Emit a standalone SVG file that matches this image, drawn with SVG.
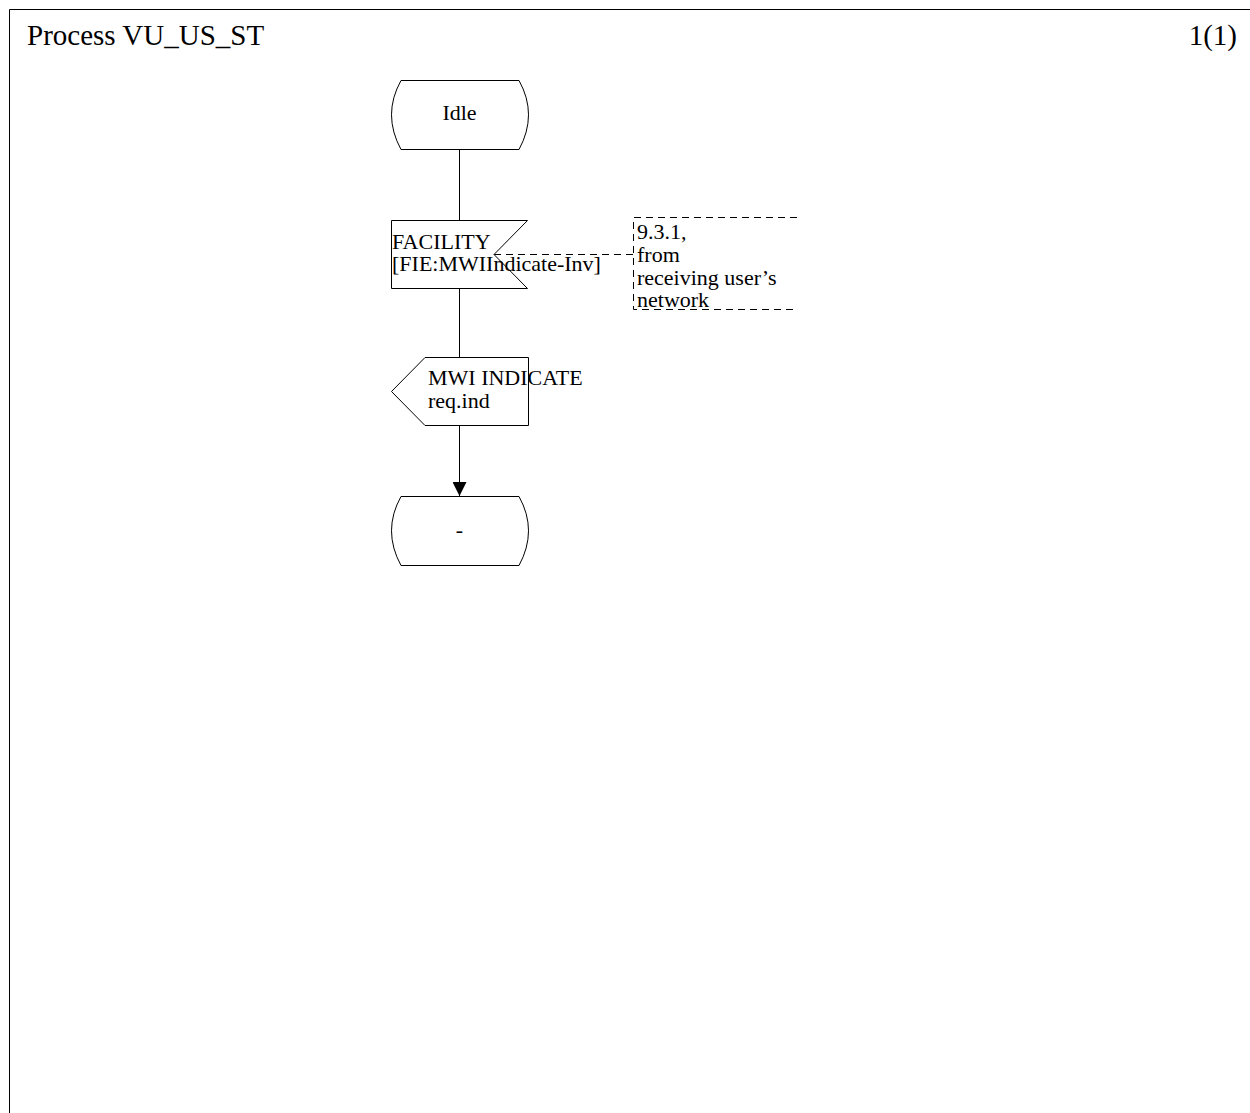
<svg xmlns="http://www.w3.org/2000/svg" width="1250" height="1113" viewBox="0 0 1250 1113">
<style>
text{font-family:"Liberation Serif","Times New Roman",serif;font-size:22px;fill:#000}
.s{fill:#fff;stroke:#000;stroke-width:1}
.l{fill:none;stroke:#000;stroke-width:1}
.d{fill:none;stroke:#000;stroke-width:1;stroke-dasharray:7,5}
</style>
<defs>
<marker id="ah" markerWidth="14" markerHeight="14" refX="14" refY="7" orient="auto" markerUnits="userSpaceOnUse">
<path d="M0,0 L14,7 L0,14 Z" fill="#000"/>
</marker>
</defs>
<rect width="1250" height="1113" fill="#fff"/>
<g id="frame">
<path class="l" d="M9.5,1113 V9.5 H1250"/>
<text x="27" y="45" style="font-size:29px">Process VU_US_ST</text>
<text x="1237" y="45" text-anchor="end" style="font-size:29px">1(1)</text>
</g>
<g id="connectors">
<line class="l" x1="459.5" y1="149" x2="459.5" y2="220"/>
<line class="l" x1="459.5" y1="288" x2="459.5" y2="357"/>
<line class="l" x1="459.5" y1="425" x2="459.5" y2="496" marker-end="url(#ah)"/>
<line class="d" x1="494" y1="254.5" x2="633.5" y2="254.5"/>
</g>
<g id="idle">
<path class="s" d="M401,80.5 H519 Q538,114.5 519,149.5 H401 Q382,114.5 401,80.5 Z"/>
<text x="459.5" y="120" text-anchor="middle">Idle</text>
</g>
<g id="facility">
<path class="s" d="M391.5,220.5 H527.5 L494,254.5 L527.5,288.5 H391.5 Z"/>
<text x="392" y="249">FACILITY</text>
<text x="392" y="271">[FIE:MWIIndicate-Inv]</text>
</g>
<g id="comment">
<path class="d" d="M797,217.5 H633.5 V309.5 H797"/>
<text x="637" y="239">9.3.1,</text>
<text x="637" y="262">from</text>
<text x="637" y="285">receiving user’s</text>
<text x="637" y="307">network</text>
</g>
<g id="mwi">
<path class="s" d="M425,357.5 H528.5 V425.5 H425 L391.5,391.5 Z"/>
<text x="428" y="385">MWI INDICATE</text>
<text x="428" y="408">req.ind</text>
</g>
<g id="dash">
<path class="s" d="M401,496.5 H519 Q538,530.5 519,565.5 H401 Q382,530.5 401,496.5 Z"/>
<text x="459.5" y="537" text-anchor="middle">-</text>
</g>
</svg>
